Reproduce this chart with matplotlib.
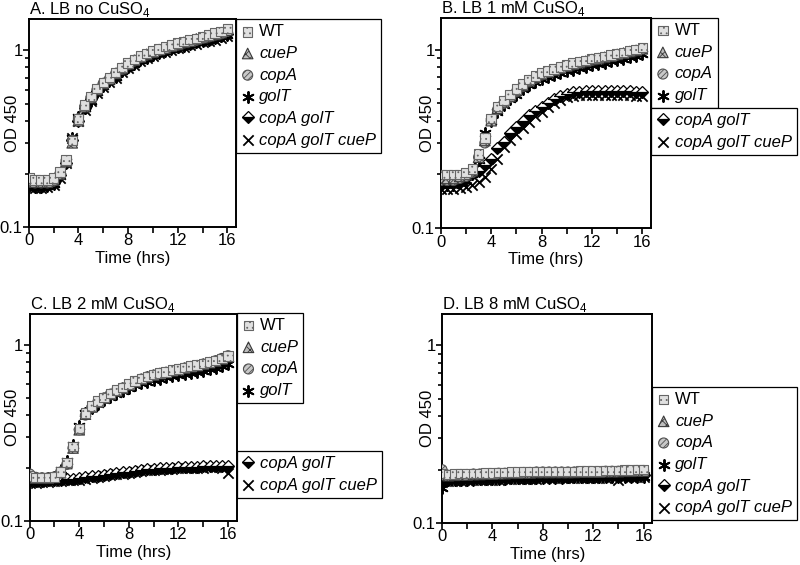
import matplotlib
matplotlib.use("Agg")
import matplotlib.pyplot as plt
from matplotlib.ticker import FixedLocator, FixedFormatter, LogLocator, NullFormatter, MultipleLocator

plt.rcParams['font.family'] = ['Liberation Sans', 'DejaVu Sans']
plt.rcParams['mathtext.fontset'] = 'custom'
plt.rcParams['mathtext.rm'] = 'Liberation Sans'
plt.rcParams['hatch.linewidth'] = 0.6

# sampling times (hrs)
hours = [0, 0.5, 1, 1.5, 2, 2.5, 3, 3.5, 4, 4.5, 5, 5.5, 6, 6.5, 7, 7.5, 8,
         8.5, 9, 9.5, 10, 10.5, 11, 11.5, 12, 12.5, 13, 13.5, 14, 14.5, 15, 15.5, 16]

strains = ["WT", "cueP", "copA", "golT", "copA golT", "copA golT cueP"]

# --- A. LB no CuSO4 ---
wt_a = [0.19, 0.185, 0.185, 0.185, 0.19, 0.205, 0.24, 0.31, 0.41, 0.49, 0.55, 0.61, 0.66, 0.70, 0.75, 0.80, 0.85,
        0.89, 0.93, 0.96, 0.99, 1.02, 1.05, 1.07, 1.10, 1.12, 1.15, 1.17, 1.20, 1.22, 1.25, 1.28, 1.33]
cuep_a = [0.185, 0.18, 0.18, 0.18, 0.185, 0.20, 0.235, 0.30, 0.40, 0.48, 0.54, 0.60, 0.65, 0.69, 0.74, 0.79, 0.84,
          0.88, 0.92, 0.95, 0.98, 1.01, 1.03, 1.06, 1.08, 1.11, 1.13, 1.16, 1.18, 1.21, 1.23, 1.26, 1.30]
copa_a = [0.18, 0.178, 0.178, 0.178, 0.182, 0.20, 0.235, 0.31, 0.41, 0.48, 0.54, 0.60, 0.65, 0.69, 0.74, 0.78, 0.83,
          0.87, 0.91, 0.94, 0.97, 1.00, 1.02, 1.05, 1.07, 1.10, 1.12, 1.14, 1.17, 1.19, 1.22, 1.24, 1.28]
golt_a = [0.17, 0.168, 0.168, 0.17, 0.175, 0.195, 0.235, 0.32, 0.42, 0.47, 0.52, 0.58, 0.63, 0.67, 0.71, 0.76, 0.80,
          0.84, 0.88, 0.91, 0.94, 0.97, 0.99, 1.02, 1.04, 1.06, 1.08, 1.11, 1.13, 1.15, 1.17, 1.20, 1.22]
copagolt_a = [0.175, 0.172, 0.172, 0.172, 0.178, 0.198, 0.232, 0.31, 0.40, 0.47, 0.53, 0.59, 0.64, 0.68, 0.72, 0.77, 0.81,
              0.85, 0.89, 0.92, 0.95, 0.98, 1.00, 1.03, 1.05, 1.07, 1.10, 1.12, 1.14, 1.16, 1.19, 1.21, 1.24]
triple_a = [0.168, 0.166, 0.166, 0.168, 0.172, 0.19, 0.23, 0.32, 0.40, 0.46, 0.52, 0.57, 0.62, 0.66, 0.70, 0.75, 0.79,
            0.83, 0.87, 0.90, 0.93, 0.96, 0.98, 1.00, 1.03, 1.05, 1.07, 1.09, 1.11, 1.13, 1.15, 1.18, 1.20]

# --- B. LB 1 mM CuSO4 ---
wt_b = [0.20, 0.20, 0.20, 0.20, 0.205, 0.215, 0.26, 0.32, 0.41, 0.48, 0.52, 0.56, 0.60, 0.64, 0.68, 0.71, 0.74,
        0.76, 0.78, 0.80, 0.82, 0.84, 0.855, 0.87, 0.89, 0.90, 0.915, 0.93, 0.95, 0.965, 0.985, 1.00, 1.03]
cuep_b = [0.19, 0.19, 0.19, 0.195, 0.20, 0.21, 0.25, 0.31, 0.40, 0.47, 0.51, 0.55, 0.59, 0.63, 0.67, 0.70, 0.73,
          0.75, 0.77, 0.79, 0.81, 0.83, 0.845, 0.86, 0.88, 0.89, 0.905, 0.92, 0.94, 0.955, 0.975, 0.99, 1.01]
copa_b = [0.185, 0.185, 0.185, 0.19, 0.195, 0.205, 0.25, 0.30, 0.40, 0.46, 0.50, 0.54, 0.58, 0.62, 0.66, 0.69, 0.72,
          0.745, 0.765, 0.785, 0.805, 0.82, 0.84, 0.855, 0.87, 0.885, 0.90, 0.915, 0.93, 0.95, 0.97, 0.985, 1.01]
golt_b = [0.175, 0.175, 0.175, 0.18, 0.185, 0.20, 0.24, 0.34, 0.40, 0.45, 0.49, 0.53, 0.56, 0.60, 0.63, 0.66, 0.68,
          0.70, 0.72, 0.74, 0.755, 0.77, 0.785, 0.80, 0.815, 0.83, 0.845, 0.86, 0.875, 0.89, 0.905, 0.92, 0.94]
copagolt_b = [0.175, 0.18, 0.18, 0.185, 0.19, 0.20, 0.21, 0.225, 0.245, 0.28, 0.305, 0.34, 0.37, 0.40, 0.43, 0.455, 0.48,
              0.505, 0.53, 0.55, 0.565, 0.575, 0.58, 0.585, 0.585, 0.59, 0.59, 0.59, 0.59, 0.585, 0.585, 0.58, 0.58]
triple_b = [0.165, 0.165, 0.165, 0.168, 0.17, 0.175, 0.182, 0.194, 0.215, 0.245, 0.285, 0.31, 0.335, 0.365, 0.395, 0.425, 0.45,
            0.475, 0.50, 0.52, 0.54, 0.55, 0.555, 0.56, 0.56, 0.56, 0.56, 0.56, 0.56, 0.555, 0.555, 0.55, 0.55]

# --- C. LB 2 mM CuSO4 ---
wt_c = [0.18, 0.176, 0.176, 0.176, 0.178, 0.19, 0.215, 0.265, 0.335, 0.41, 0.45, 0.48, 0.505, 0.53, 0.555, 0.575, 0.60,
        0.625, 0.645, 0.665, 0.68, 0.695, 0.705, 0.72, 0.73, 0.745, 0.76, 0.77, 0.785, 0.80, 0.815, 0.84, 0.865]
cuep_c = [0.178, 0.175, 0.175, 0.175, 0.177, 0.188, 0.212, 0.26, 0.33, 0.405, 0.445, 0.475, 0.50, 0.525, 0.55, 0.57, 0.595,
          0.62, 0.64, 0.66, 0.675, 0.69, 0.70, 0.715, 0.725, 0.74, 0.755, 0.765, 0.78, 0.795, 0.81, 0.835, 0.86]
copa_c = [0.185, 0.177, 0.176, 0.176, 0.178, 0.19, 0.21, 0.26, 0.33, 0.40, 0.44, 0.475, 0.50, 0.525, 0.55, 0.57, 0.595,
          0.62, 0.64, 0.66, 0.675, 0.69, 0.70, 0.715, 0.725, 0.74, 0.755, 0.765, 0.78, 0.795, 0.815, 0.84, 0.87]
golt_c = [0.175, 0.174, 0.174, 0.175, 0.178, 0.194, 0.22, 0.27, 0.345, 0.41, 0.44, 0.465, 0.49, 0.51, 0.53, 0.55, 0.57,
          0.59, 0.605, 0.62, 0.635, 0.645, 0.655, 0.665, 0.675, 0.685, 0.695, 0.705, 0.715, 0.73, 0.745, 0.76, 0.78]
copagolt_c = [0.168, 0.168, 0.169, 0.17, 0.171, 0.172, 0.173, 0.174, 0.175, 0.177, 0.179, 0.181, 0.183, 0.185, 0.187, 0.189, 0.191,
              0.193, 0.195, 0.197, 0.198, 0.199, 0.20, 0.201, 0.202, 0.202, 0.203, 0.203, 0.204, 0.205, 0.206, 0.206, 0.204]
triple_c = [0.165, 0.165, 0.166, 0.167, 0.168, 0.169, 0.17, 0.171, 0.172, 0.174, 0.176, 0.178, 0.18, 0.182, 0.184, 0.186, 0.188,
            0.19, 0.192, 0.194, 0.195, 0.196, 0.197, 0.198, 0.199, 0.199, 0.20, 0.20, 0.201, 0.202, 0.202, 0.201, 0.188]

# --- D. LB 8 mM CuSO4 ---
wt_d = [0.19, 0.188, 0.189, 0.19, 0.19, 0.191, 0.191, 0.192, 0.192, 0.193, 0.193, 0.194, 0.194, 0.195, 0.195, 0.196, 0.196,
        0.196, 0.196, 0.196, 0.196, 0.196, 0.197, 0.197, 0.197, 0.197, 0.198, 0.198, 0.198, 0.199, 0.199, 0.20, 0.20]
cuep_d = [0.187, 0.185, 0.186, 0.187, 0.187, 0.188, 0.188, 0.189, 0.189, 0.19, 0.19, 0.191, 0.191, 0.192, 0.192, 0.193, 0.193,
          0.193, 0.193, 0.193, 0.193, 0.193, 0.194, 0.194, 0.194, 0.194, 0.195, 0.195, 0.195, 0.196, 0.196, 0.197, 0.197]
copa_d = [0.20, 0.186, 0.187, 0.188, 0.188, 0.189, 0.189, 0.19, 0.19, 0.191, 0.191, 0.192, 0.192, 0.193, 0.193, 0.194, 0.194,
          0.194, 0.194, 0.194, 0.194, 0.194, 0.195, 0.195, 0.195, 0.195, 0.196, 0.196, 0.196, 0.197, 0.197, 0.198, 0.198]
golt_d = [0.158, 0.174, 0.175, 0.175, 0.176, 0.176, 0.177, 0.177, 0.178, 0.178, 0.178, 0.179, 0.179, 0.179, 0.18, 0.18, 0.18,
          0.18, 0.18, 0.18, 0.181, 0.181, 0.181, 0.181, 0.181, 0.181, 0.182, 0.182, 0.182, 0.182, 0.183, 0.183, 0.183]
copagolt_d = [0.172, 0.176, 0.177, 0.177, 0.178, 0.178, 0.179, 0.179, 0.18, 0.18, 0.181, 0.181, 0.181, 0.182, 0.182, 0.182, 0.183,
              0.183, 0.183, 0.183, 0.183, 0.184, 0.184, 0.184, 0.184, 0.184, 0.185, 0.185, 0.185, 0.185, 0.186, 0.186, 0.186]
triple_d = [0.17, 0.172, 0.173, 0.173, 0.174, 0.174, 0.175, 0.175, 0.176, 0.176, 0.177, 0.177, 0.177, 0.178, 0.178, 0.178, 0.179,
            0.179, 0.179, 0.179, 0.18, 0.18, 0.18, 0.18, 0.18, 0.18, 0.18, 0.181, 0.174, 0.181, 0.182, 0.182, 0.182]

panels = [
    ("A. LB no CuSO$_4$", [wt_a, cuep_a, copa_a, golt_a, copagolt_a, triple_a]),
    ("B. LB 1 mM CuSO$_4$", [wt_b, cuep_b, copa_b, golt_b, copagolt_b, triple_b]),
    ("C. LB 2 mM CuSO$_4$", [wt_c, cuep_c, copa_c, golt_c, copagolt_c, triple_c]),
    ("D. LB 8 mM CuSO$_4$", [wt_d, cuep_d, copa_d, golt_d, copagolt_d, triple_d]),
]

# axes rectangles in figure fraction (left, bottom, width, height)
rects = [(0.036, 0.598, 0.259, 0.368),
         (0.551, 0.596, 0.263, 0.372),
         (0.037, 0.078, 0.259, 0.366),
         (0.5525, 0.074, 0.263, 0.370)]
# y-label x position (right edge of rotated text) in axes coords
ylabel_x = [-0.043, -0.028, -0.046, -0.033]

# legend layout: list of (strain indices, upper-left anchor in figure fraction)
legend_groups = [
    [([0, 1, 2, 3, 4, 5], (0.295, 0.966))],
    [([0, 1, 2, 3], (0.814, 0.968)), ([4, 5], (0.814, 0.809))],
    [([0, 1, 2, 3], (0.296, 0.446)), ([4, 5], (0.296, 0.202))],
    [([0, 1, 2, 3, 4, 5], (0.815, 0.315))],
]


def draw_strain(ax, idx, y):
    if idx == 0:
        return ax.scatter(hours, y, marker='s', s=46, facecolor='#e0e0e0', edgecolor='#666666',
                          hatch='...', linewidths=0.8, zorder=6)
    if idx == 1:
        return ax.scatter(hours, y, marker='^', s=58, facecolor='#bdbdbd', edgecolor='#3a3a3a',
                          hatch='xxxx', linewidths=0.8, zorder=5)
    if idx == 2:
        return ax.scatter(hours, y, marker='o', s=52, facecolor='#c8c8c8', edgecolor='#505050',
                          hatch='//////', linewidths=0.8, zorder=4)
    if idx == 3:
        return ax.scatter(hours, y, marker=(6, 2, 0), s=62, color='black', linewidths=1.4, zorder=3)
    if idx == 4:
        return ax.plot(hours, y, ls='none', marker='D', ms=6.5, fillstyle='bottom', mfc='black',
                       mfcalt='white', mec='black', mew=0.9, zorder=2)[0]
    return ax.scatter(hours, y, marker='x', s=55, color='black', linewidths=1.3, zorder=1)


fig = plt.figure(figsize=(8, 5.65), dpi=100)

for k, ((title, series), rect, groups) in enumerate(zip(panels, rects, legend_groups)):
    ax = fig.add_axes(rect)
    handles = [draw_strain(ax, i, y) for i, y in enumerate(series)]

    ax.set_yscale('log')
    ax.set_ylim(0.1, 1.5)
    ax.set_xlim(0, 16.7)
    ax.yaxis.set_major_locator(FixedLocator([0.1, 1]))
    ax.yaxis.set_major_formatter(FixedFormatter(['0.1', '1']))
    ax.yaxis.set_minor_locator(LogLocator(base=10, subs=[2, 3, 4, 5, 6, 7, 8, 9]))
    ax.yaxis.set_minor_formatter(NullFormatter())
    ax.xaxis.set_major_locator(FixedLocator([0, 4, 8, 12, 16]))
    ax.xaxis.set_minor_locator(MultipleLocator(2))
    ax.tick_params(which='major', direction='out', length=4, width=1.2, labelsize=12, pad=0.5)
    ax.tick_params(which='minor', direction='out', length=3, width=1.2)
    ax.tick_params(axis='x', which='minor', length=4)
    for sp in ax.spines.values():
        sp.set_linewidth(1.4)

    ax.set_xlabel('Time (hrs)', fontsize=12, labelpad=2)
    ax.set_ylabel('OD 450', fontsize=12)
    ax.yaxis.set_label_coords(ylabel_x[k], 0.5)
    ax.set_title(title, loc='left', fontsize=12, pad=3)

    for idxs, anchor in groups:
        leg = fig.legend([handles[i] for i in idxs], [strains[i] for i in idxs],
                         loc='upper left', bbox_to_anchor=anchor, bbox_transform=fig.transFigure,
                         fontsize=12, frameon=True, fancybox=False, framealpha=1,
                         edgecolor='black', borderpad=0.3, borderaxespad=0,
                         handlelength=0.8, handletextpad=0.3, labelspacing=0.4,
                         scatterpoints=1)
        leg.get_frame().set_linewidth(0.9)
        for txt in leg.get_texts():
            if txt.get_text() != 'WT':
                txt.set_fontstyle('italic')

fig.savefig('out.png', dpi=100)
